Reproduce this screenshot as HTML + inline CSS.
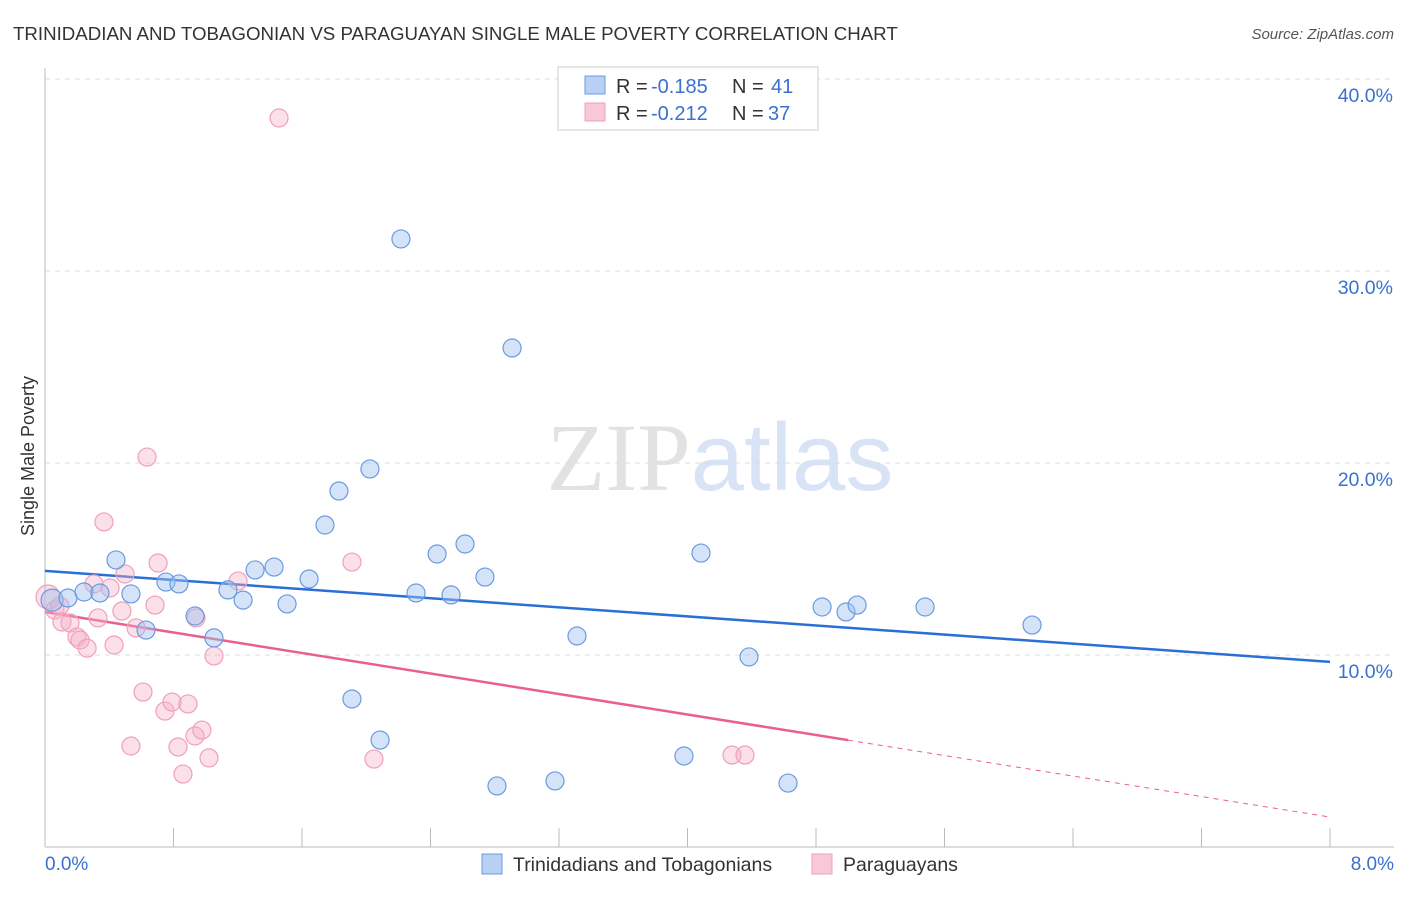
<!DOCTYPE html>
<html><head><meta charset="utf-8"><style>
body{margin:0;background:#fff;font-family:"Liberation Sans",sans-serif}
svg text{font-family:"Liberation Sans",sans-serif}
</style></head><body>
<svg id="chart" width="1406" height="892" xmlns="http://www.w3.org/2000/svg">
<text x="13" y="40" font-size="18.7" fill="#333">TRINIDADIAN AND TOBAGONIAN VS PARAGUAYAN SINGLE MALE POVERTY CORRELATION CHART</text>
<text x="1394" y="39" font-size="15" fill="#555" font-style="italic" text-anchor="end">Source: ZipAtlas.com</text>
<text x="720" y="490" font-size="96" text-anchor="middle"><tspan fill="#e2e2e2" font-family="Liberation Serif">ZIP</tspan><tspan fill="#d8e4f6">atlas</tspan></text>
<text transform="translate(34,456) rotate(-90)" font-size="18" fill="#333" text-anchor="middle">Single Male Poverty</text>
<g id="grid"></g><g id="axes"></g><g id="lines"></g><g id="pts"></g>
<g>
<rect x="558" y="67" width="260" height="63" fill="#fff" stroke="#ccc"/>
<rect x="585" y="76" width="20" height="18" fill="#b8d0f4" stroke="#6a9be0"/>
<text x="616" y="93" font-size="20" fill="#333">R =</text>
<text x="651" y="93" font-size="20" fill="#3a70d0">-0.185</text>
<text x="732" y="93" font-size="20" fill="#333">N =</text>
<text x="771" y="93" font-size="20" fill="#3a70d0">41</text>
<rect x="585" y="103" width="20" height="18" fill="#f8c8d8" stroke="#f0a0b8"/>
<text x="616" y="120" font-size="20" fill="#333">R =</text>
<text x="651" y="120" font-size="20" fill="#3a70d0">-0.212</text>
<text x="732" y="120" font-size="20" fill="#333">N =</text>
<text x="768" y="120" font-size="20" fill="#3a70d0">37</text>
</g>
<g>
<rect x="482" y="854" width="20" height="20" fill="#b8d0f4" stroke="#6a9be0"/>
<text x="513" y="871" font-size="19.5" fill="#333">Trinidadians and Tobagonians</text>
<rect x="812" y="854" width="20" height="20" fill="#f8c8d8" stroke="#f0a0b8"/>
<text x="843" y="871" font-size="19.5" fill="#333">Paraguayans</text>
</g>
</svg>
<script>
const yTicks=[10,20,30,40];
const yTickLabels=["10.0%","20.0%","30.0%","40.0%"];
const xTickLabels=["0.0%","8.0%"];
const blueX=[0.044,0.143,0.243,0.342,0.442,0.535,0.629,0.753,0.834,0.934,1.052,1.139,1.233,1.308,1.426,1.507,1.644,1.743,1.830,1.911,2.023,2.086,2.216,2.310,2.441,2.528,2.615,2.739,2.814,2.908,3.175,3.312,3.978,4.084,4.383,4.626,4.838,4.987,5.056,5.479,6.145];
const blueY=[12.86,12.97,13.28,13.23,14.95,13.18,11.30,13.80,13.70,12.03,10.89,13.39,12.86,14.43,14.58,12.66,13.96,16.77,18.54,7.71,19.69,5.57,31.67,13.23,15.26,13.13,15.78,14.06,3.18,25.99,3.44,10.99,4.74,15.31,9.90,3.33,12.50,12.24,12.60,12.50,11.56];
const pinkX=[0.019,0.062,0.093,0.106,0.156,0.199,0.218,0.262,0.305,0.330,0.367,0.405,0.430,0.479,0.498,0.535,0.567,0.610,0.635,0.685,0.704,0.747,0.791,0.828,0.859,0.890,0.934,0.940,0.977,1.021,1.052,1.202,1.457,1.911,2.048,4.277,4.358];
const pinkY=[13.02,12.34,12.55,11.72,11.67,10.94,10.78,10.36,13.70,11.93,16.93,13.49,10.52,12.29,14.22,5.26,11.41,8.07,20.31,12.60,14.79,7.08,7.55,5.21,3.80,7.45,5.78,11.93,6.09,4.64,9.95,13.85,37.97,14.84,4.58,4.79,4.79];
const blueTrend=[14.38,9.64];
const pinkTrend=[12.24,1.56];
const NS="http://www.w3.org/2000/svg";
const X=v=>45+v/8*1285, Y=v=>847-v*19.2;
function mk(tag,attrs,parent){const e=document.createElementNS(NS,tag);for(const k in attrs)e.setAttribute(k,attrs[k]);document.getElementById(parent).appendChild(e);return e;}
yTicks.forEach((t,i)=>{
 const g=mk('line',{x1:45,x2:1394,y1:Y(t),y2:Y(t),stroke:'#ddd','stroke-dasharray':'5,5'},'grid');
 
 
 const tx=mk('text',{x:1393,y:Y(t)+23,'font-size':19.5,fill:'#3a70d0','text-anchor':'end'},'axes');
 tx.textContent=yTickLabels[i];
 
 
});
const ax=mk('line',{x1:45,x2:45,y1:68,y2:847,stroke:'#bbb'},'axes');


const bx=mk('line',{x1:45,x2:1394,y1:847,y2:847,stroke:'#bbb'},'axes');


for(let i=0;i<=10;i++){const t=mk('line',{x1:X(i*0.8),x2:X(i*0.8),y1:828,y2:847,stroke:'#bbb'},'axes');
 
 }
[[0,'start',45],[8,'end',1394]].forEach((a,i)=>{const t=mk('text',{x:a[2],y:870,'font-size':19,fill:'#3a70d0','text-anchor':a[1]},'axes');t.textContent=xTickLabels[i];
 
 });
function dots(xs,ys,fill,stroke,name){xs.forEach((x,i)=>{const r=(i===0&&name==='pink-point')?12:(i===0?11:9);
 const c=mk('circle',{cx:X(x),cy:Y(ys[i]),r:r,fill:fill,stroke:stroke,'stroke-width':1.2},'pts');
 
 });}
dots(pinkX,pinkY,'rgba(246,176,200,0.4)','#f0a0b8','pink-point');
dots(blueX,blueY,'rgba(160,192,240,0.45)','#6a9be0','blue-point');
const bl=mk('line',{x1:X(0),y1:Y(blueTrend[0]),x2:X(8),y2:Y(blueTrend[1]),stroke:'#2a6fd6','stroke-width':2.5},'lines');


const pe=5.0,pv=pinkTrend[0]+(pinkTrend[1]-pinkTrend[0])*pe/8;
const pl=mk('line',{x1:X(0),y1:Y(pinkTrend[0]),x2:X(pe),y2:Y(pv),stroke:'#e8608c','stroke-width':2.5},'lines');


const pd=mk('line',{x1:X(pe),y1:Y(pv),x2:X(8),y2:Y(pinkTrend[1]),stroke:'#e8608c','stroke-width':1,'stroke-dasharray':'5,5'},'lines');


</script>
</body></html>
